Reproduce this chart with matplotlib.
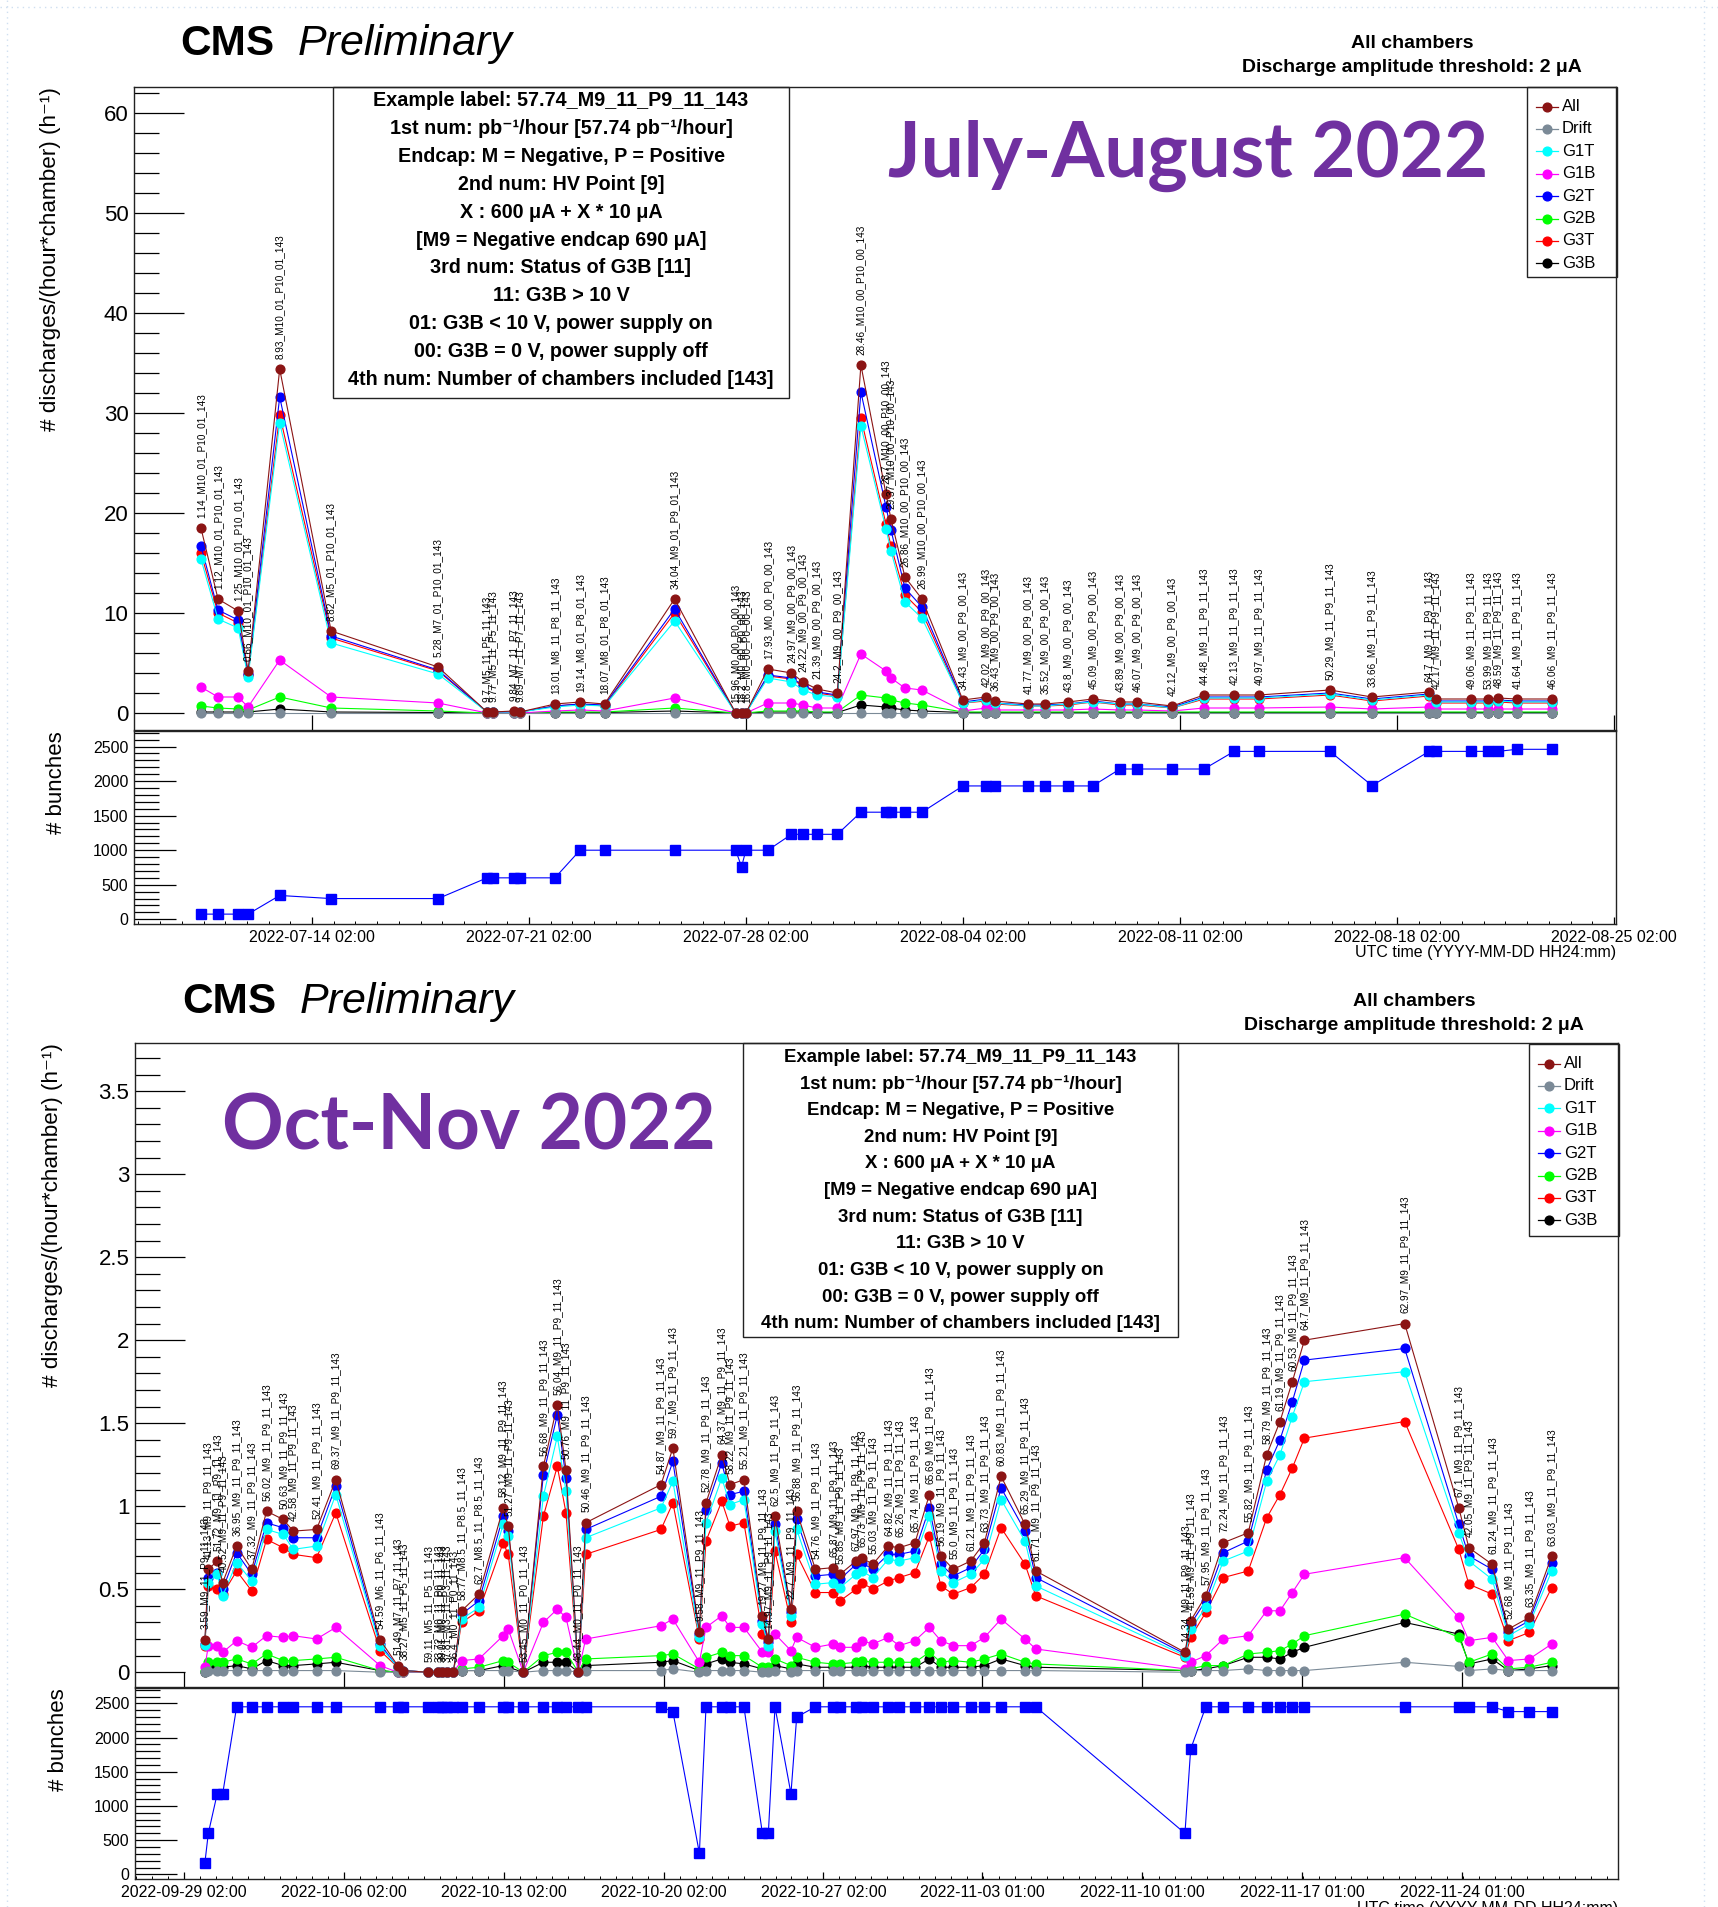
import datetime as dt
import numpy as np
import matplotlib
matplotlib.use("Agg")
import matplotlib.pyplot as plt
import matplotlib.dates as mdates
from matplotlib.lines import Line2D
from matplotlib.patches import Rectangle
from matplotlib.ticker import MultipleLocator, FixedLocator, FuncFormatter

plt.rcParams["font.family"] = ["Liberation Sans", "DejaVu Sans"]

W, H = 1718, 1907

SERIES = ["All", "Drift", "G1T", "G1B", "G2T", "G2B", "G3T", "G3B"]
COLORS = {"All": "#8b1414", "Drift": "#7b8a97", "G1T": "#00ffff", "G1B": "#ff00ff",
          "G2T": "#0000ff", "G2B": "#00ff00", "G3T": "#ff0000", "G3B": "#000000"}
DRAW_ORDER = ["G3B", "G3T", "G2B", "G2T", "G1B", "G1T", "Drift", "All"]

# ---------------- July-August 2022 ----------------
jul_t0 = dt.datetime(2022, 7, 1)
jul_day = [9.50, 10.05, 10.70, 11.02, 12.04, 13.70, 17.15, 18.73, 18.92, 19.60,
           19.79, 20.92, 21.73, 22.52, 24.78, 26.75, 26.94, 27.08, 27.79, 28.55,
           28.92, 29.37, 30.03, 30.79, 31.60, 31.76, 32.21, 32.76, 34.08, 34.83,
           35.12, 36.18, 36.73, 37.47, 38.27, 39.15, 39.70, 40.83, 41.86, 42.83,
           43.63, 45.92, 47.28, 49.12, 49.34, 50.47, 51.02, 51.34, 51.95, 53.08]
jul_label = [
    "1.14_M10_01_P10_01_143", "1.12_M10_01_P10_01_143", "1.25_M10_01_P10_01_143",
    "0.66_M10_01_P10_01_143", "8.93_M10_01_P10_01_143", "8.82_M5_01_P10_01_143",
    "5.28_M7_01_P10_01_143", "9.7_M5_11_P5_11_143", "9.77_M5_11_P5_11_143",
    "9.84_M7_11_P7_11_143", "9.89_M7_11_P7_11_143", "13.01_M8_11_P8_11_143",
    "19.14_M8_01_P8_01_143", "18.07_M8_01_P8_01_143", "34.04_M9_01_P9_01_143",
    "15.96_M0_00_P0_00_143", "18.2_M0_00_P0_00_143", "16.8_M0_00_P0_00_143",
    "17.93_M0_00_P0_00_143", "24.97_M9_00_P9_00_143", "24.22_M9_00_P9_00_143",
    "21.39_M9_00_P9_00_143", "24.2_M9_00_P9_00_143", "28.46_M10_00_P10_00_143",
    "28.7_M10_00_P10_00_143", "29.37_M10_00_P10_00_143", "26.86_M10_00_P10_00_143",
    "26.99_M10_00_P10_00_143", "34.43_M9_00_P9_00_143", "42.02_M9_00_P9_00_143",
    "36.43_M9_00_P9_00_143", "41.77_M9_00_P9_00_143", "35.52_M9_00_P9_00_143",
    "43.8_M9_00_P9_00_143", "45.09_M9_00_P9_00_143", "43.89_M9_00_P9_00_143",
    "46.07_M9_00_P9_00_143", "42.12_M9_00_P9_00_143", "44.48_M9_11_P9_11_143",
    "42.13_M9_11_P9_11_143", "40.97_M9_11_P9_11_143", "50.29_M9_11_P9_11_143",
    "33.66_M9_11_P9_11_143", "64.7_M9_11_P9_11_143", "42.17_M9_11_P9_11_143",
    "49.06_M9_11_P9_11_143", "53.99_M9_11_P9_11_143", "48.59_M9_11_P9_11_143",
    "41.64_M9_11_P9_11_143", "46.06_M9_11_P9_11_143"]
jul_all = [18.5, 11.4, 10.2, 4.2, 34.4, 8.2, 4.6, 0.1, 0.1, 0.2,
           0.1, 0.9, 1.1, 0.9, 11.4, 0.0, 0.0, 0.0, 4.4, 4.0,
           3.1, 2.4, 2.0, 34.8, 21.9, 19.4, 13.6, 11.4, 1.3, 1.6,
           1.2, 0.9, 0.9, 1.1, 1.4, 1.1, 1.1, 0.7, 1.8, 1.8,
           1.8, 2.3, 1.6, 2.1, 1.4, 1.4, 1.4, 1.5, 1.4, 1.4]
jul_g2t = [16.7, 10.3, 9.3, 3.9, 31.6, 7.7, 4.3, 0.1, 0.1, 0.1,
           0.1, 0.7, 0.9, 0.8, 10.4, 0.0, 0.0, 0.0, 3.8, 3.5,
           2.8, 2.1, 1.8, 32.1, 20.6, 18.3, 12.5, 10.6, 1.1, 1.4,
           1.0, 0.8, 0.8, 0.9, 1.2, 0.9, 0.9, 0.6, 1.6, 1.6,
           1.6, 2.0, 1.4, 1.9, 1.2, 1.2, 1.2, 1.3, 1.2, 1.2]
jul_g3t = [16.0, 10.0, 9.0, 3.8, 29.8, 7.5, 4.2, 0.1, 0.1, 0.1,
           0.1, 0.7, 0.9, 0.7, 10.0, 0.0, 0.0, 0.0, 3.7, 3.4,
           2.7, 2.0, 1.7, 29.5, 18.9, 16.7, 11.8, 10.1, 1.0, 1.2,
           0.9, 0.7, 0.7, 0.8, 1.1, 0.8, 0.8, 0.5, 1.4, 1.4,
           1.4, 1.8, 1.2, 1.7, 1.0, 1.0, 1.0, 1.1, 1.0, 1.0]
jul_g1t = [15.4, 9.4, 8.5, 3.6, 29.0, 7.0, 3.9, 0.1, 0.1, 0.1,
           0.1, 0.6, 0.8, 0.7, 9.2, 0.0, 0.0, 0.0, 3.5, 3.1,
           2.3, 1.8, 1.6, 28.7, 18.4, 16.2, 11.1, 9.5, 1.0, 1.3,
           1.0, 0.7, 0.7, 0.9, 1.1, 0.9, 0.9, 0.5, 1.5, 1.5,
           1.5, 1.9, 1.3, 1.8, 1.1, 1.1, 1.1, 1.2, 1.1, 1.1]
jul_g1b = [2.6, 1.6, 1.6, 0.6, 5.3, 1.6, 1.0, 0.0, 0.0, 0.0,
           0.0, 0.2, 0.3, 0.2, 1.5, 0.0, 0.0, 0.0, 1.0, 1.0,
           0.8, 0.5, 0.5, 5.9, 4.2, 3.5, 2.5, 2.3, 0.2, 0.5,
           0.3, 0.3, 0.3, 0.3, 0.4, 0.3, 0.3, 0.2, 0.5, 0.5,
           0.5, 0.6, 0.4, 0.6, 0.4, 0.4, 0.4, 0.4, 0.4, 0.4]
jul_g2b = [0.7, 0.5, 0.4, 0.3, 1.6, 0.5, 0.2, 0.0, 0.0, 0.0,
           0.0, 0.1, 0.1, 0.1, 0.5, 0.0, 0.0, 0.0, 0.2, 0.2,
           0.2, 0.1, 0.1, 1.8, 1.5, 1.3, 1.0, 0.8, 0.1, 0.1,
           0.1, 0.1, 0.1, 0.1, 0.1, 0.1, 0.1, 0.1, 0.1, 0.1,
           0.1, 0.1, 0.1, 0.1, 0.1, 0.1, 0.1, 0.1, 0.1, 0.1]
jul_g3b = [0.1, 0.1, 0.1, 0.1, 0.4, 0.1, 0.05, 0.0, 0.0, 0.0,
           0.0, 0.05, 0.05, 0.05, 0.2, 0.0, 0.0, 0.0, 0.1, 0.1,
           0.1, 0.05, 0.05, 0.8, 0.6, 0.5, 0.3, 0.2, 0.05, 0.05,
           0.05, 0.05, 0.05, 0.05, 0.05, 0.05, 0.05, 0.05, 0.05, 0.05,
           0.05, 0.05, 0.05, 0.05, 0.05, 0.05, 0.05, 0.05, 0.05, 0.05]
jul_drift = [0.0, 0.0, 0.0, 0.0, 0.0, 0.0, 0.0, 0.0, 0.0, 0.0,
             0.0, 0.0, 0.0, 0.0, 0.0, 0.0, 0.0, 0.0, 0.0, 0.0,
             0.0, 0.0, 0.0, 0.0, 0.0, 0.0, 0.0, 0.0, 0.0, 0.0,
             0.0, 0.0, 0.0, 0.0, 0.0, 0.0, 0.0, 0.0, 0.0, 0.0,
             0.0, 0.0, 0.0, 0.0, 0.0, 0.0, 0.0, 0.0, 0.0, 0.0]
jul_bunches = [75, 75, 75, 75, 345, 300, 300, 600, 600, 600,
               600, 600, 1000, 1000, 1000, 1000, 760, 1000, 1000, 1230,
               1230, 1230, 1230, 1550, 1550, 1550, 1550, 1550, 1930, 1930,
               1930, 1930, 1930, 1930, 1930, 2175, 2175, 2175, 2175, 2430,
               2430, 2430, 1935, 2430, 2430, 2430, 2430, 2430, 2460, 2460]
jul_ticks = [dt.datetime(2022, 7, 14, 2) + dt.timedelta(days=7 * k) for k in range(7)]

# ---------------- Oct-Nov 2022 ----------------
oct_t0 = dt.datetime(2022, 9, 29)
oct_day = [1.00, 1.15, 1.54, 1.78, 2.39, 3.05, 3.70, 4.43, 4.87, 5.89,
           6.73, 8.67, 9.44, 9.69, 10.78, 11.22, 11.37, 11.59, 11.88, 12.24,
           13.00, 14.06, 14.28, 14.94, 15.82, 16.43, 16.81, 17.35, 17.67, 20.97,
           21.49, 22.65, 22.94, 23.63, 23.99, 24.60, 25.41, 25.67, 25.96, 26.66,
           26.91, 27.73, 28.51, 28.81, 29.51, 29.76, 30.24, 30.92, 31.40, 32.09,
           32.72, 33.22, 33.77, 34.53, 35.13, 35.86, 36.91, 37.38, 43.91, 44.16,
           44.82, 45.59, 46.68, 47.49, 48.07, 48.61, 49.14, 53.53, 55.90, 56.34,
           57.36, 58.07, 58.99, 59.97]
oct_label = [
    "3.59_M9_11_P9_11_143", "41.13_M9_11_P9_11_143", "51.72_M9_11_P9_11_143",
    "40.52_M9_11_P9_11_143", "36.95_M9_11_P9_11_143", "37.32_M9_11_P9_11_143",
    "56.02_M9_11_P9_11_143", "50.63_M9_11_P9_11_143", "42.58_M9_11_P9_11_143",
    "52.41_M9_11_P9_11_143", "69.37_M9_11_P9_11_143", "54.59_M6_11_P6_11_143",
    "51.49_M7_11_P7_11_143", "38.27_M5_11_P5_11_143", "59.11_M5_11_P5_11_143",
    "33.72_M0_11_P0_11_143", "39.01_M0_11_P0_11_143", "37.81_M3_11_P3_11_143",
    "36.4_M0_11_P0_11_143", "58.77_M8.5_11_P8.5_11_143", "62.7_M8.5_11_P8.5_11_143",
    "58.12_M9_11_P9_11_143", "51.27_M9_11_P9_11_143", "53.45_M0_11_P0_11_143",
    "56.68_M9_11_P9_11_143", "56.04_M9_11_P9_11_143", "50.76_M9_11_P9_11_143",
    "48.44_M0_11_P0_11_143", "50.46_M9_11_P9_11_143", "54.87_M9_11_P9_11_143",
    "59.7_M9_11_P9_11_143", "9.58_M9_11_P9_11_143", "52.78_M9_11_P9_11_143",
    "64.37_M9_11_P9_11_143", "58.22_M9_11_P9_11_143", "55.21_M9_11_P9_11_143",
    "19.27_M9_11_P9_11_143", "14.97_M9_11_P9_11_143", "62.5_M9_11_P9_11_143",
    "22.7_M9_11_P9_11_143", "56.88_M9_11_P9_11_143", "54.76_M9_11_P9_11_143",
    "65.87_M9_11_P9_11_143", "55.85_M9_11_P9_11_143", "67.97_M9_11_P9_11_143",
    "65.73_M9_11_P9_11_143", "55.03_M9_11_P9_11_143", "64.82_M9_11_P9_11_143",
    "65.26_M9_11_P9_11_143", "65.74_M9_11_P9_11_143", "65.69_M9_11_P9_11_143",
    "56.19_M9_11_P9_11_143", "55.0_M9_11_P9_11_143", "61.21_M9_11_P9_11_143",
    "63.73_M9_11_P9_11_143", "60.83_M9_11_P9_11_143", "65.29_M9_11_P9_11_143",
    "61.71_M9_11_P9_11_143", "14.34_M9_11_P9_11_143", "41.59_M9_11_P9_11_143",
    "57.95_M9_11_P9_11_143", "72.24_M9_11_P9_11_143", "55.82_M9_11_P9_11_143",
    "58.79_M9_11_P9_11_143", "61.19_M9_11_P9_11_143", "60.53_M9_11_P9_11_143",
    "64.7_M9_11_P9_11_143", "62.97_M9_11_P9_11_143", "67.1_M9_11_P9_11_143",
    "42.05_M9_11_P9_11_143", "61.24_M9_11_P9_11_143", "52.68_M9_11_P9_11_143",
    "63.35_M9_11_P9_11_143", "63.03_M9_11_P9_11_143"]
oct_all = [0.195, 0.62, 0.67, 0.54, 0.76, 0.62, 0.97, 0.92, 0.85, 0.86,
           1.16, 0.195, 0.04, 0.01, 0.0, 0.0, 0.0, 0.0, 0.0, 0.37,
           0.47, 0.99, 0.88, 0.0, 1.24, 1.61, 1.22, 0.0, 0.90, 1.13,
           1.35, 0.245, 1.02, 1.31, 1.13, 1.16, 0.34, 0.20, 0.94, 0.38,
           0.97, 0.62, 0.63, 0.59, 0.67, 0.69, 0.65, 0.76, 0.75, 0.78,
           1.07, 0.70, 0.62, 0.67, 0.78, 1.18, 0.89, 0.61, 0.12, 0.31,
           0.46, 0.78, 0.84, 1.31, 1.51, 1.75, 2.00, 2.10, 0.99, 0.75,
           0.65, 0.26, 0.33, 0.70]
oct_g2t = [0.17, 0.57, 0.60, 0.50, 0.72, 0.59, 0.90, 0.87, 0.81, 0.81,
           1.12, 0.17, 0.03, 0.01, 0.0, 0.0, 0.0, 0.0, 0.0, 0.35,
           0.43, 0.94, 0.85, 0.0, 1.19, 1.55, 1.17, 0.0, 0.86, 1.06,
           1.27, 0.23, 0.98, 1.26, 1.07, 1.09, 0.31, 0.18, 0.89, 0.36,
           0.92, 0.58, 0.59, 0.56, 0.65, 0.66, 0.62, 0.71, 0.71, 0.73,
           0.99, 0.65, 0.58, 0.63, 0.74, 1.11, 0.85, 0.57, 0.11, 0.29,
           0.43, 0.72, 0.79, 1.22, 1.40, 1.63, 1.88, 1.95, 0.89, 0.70,
           0.62, 0.24, 0.31, 0.66]
oct_g1t = [0.165, 0.54, 0.59, 0.46, 0.66, 0.55, 0.86, 0.83, 0.74, 0.76,
           1.07, 0.155, 0.03, 0.01, 0.0, 0.0, 0.0, 0.0, 0.0, 0.32,
           0.39, 0.89, 0.82, 0.0, 1.06, 1.42, 1.09, 0.0, 0.81, 0.99,
           1.15, 0.21, 0.90, 1.17, 1.01, 1.04, 0.29, 0.16, 0.85, 0.34,
           0.86, 0.53, 0.54, 0.51, 0.59, 0.61, 0.57, 0.68, 0.67, 0.69,
           0.94, 0.61, 0.54, 0.59, 0.68, 1.04, 0.79, 0.52, 0.10, 0.26,
           0.39, 0.67, 0.73, 1.15, 1.31, 1.54, 1.75, 1.81, 0.84, 0.67,
           0.56, 0.22, 0.29, 0.61]
oct_g3t = [0.16, 0.52, 0.50, 0.47, 0.61, 0.49, 0.80, 0.75, 0.71, 0.69,
           0.96, 0.13, 0.03, 0.01, 0.0, 0.0, 0.0, 0.0, 0.0, 0.30,
           0.37, 0.78, 0.71, 0.0, 0.94, 1.24, 0.96, 0.0, 0.71, 0.86,
           1.02, 0.20, 0.79, 1.03, 0.88, 0.90, 0.23, 0.14, 0.73, 0.30,
           0.71, 0.48, 0.48, 0.43, 0.50, 0.54, 0.50, 0.55, 0.57, 0.60,
           0.82, 0.52, 0.47, 0.51, 0.59, 0.87, 0.65, 0.46, 0.09, 0.21,
           0.36, 0.57, 0.61, 0.93, 1.07, 1.23, 1.41, 1.51, 0.74, 0.53,
           0.47, 0.19, 0.24, 0.51]
oct_g1b = [0.03, 0.16, 0.16, 0.12, 0.19, 0.15, 0.22, 0.21, 0.22, 0.20,
           0.27, 0.04, 0.0, 0.0, 0.0, 0.0, 0.0, 0.0, 0.0, 0.07,
           0.08, 0.22, 0.26, 0.0, 0.30, 0.38, 0.33, 0.0, 0.20, 0.28,
           0.32, 0.06, 0.27, 0.34, 0.27, 0.27, 0.12, 0.12, 0.23, 0.13,
           0.21, 0.15, 0.17, 0.15, 0.15, 0.19, 0.17, 0.21, 0.16, 0.19,
           0.27, 0.19, 0.16, 0.16, 0.21, 0.32, 0.20, 0.14, 0.02, 0.06,
           0.10, 0.20, 0.22, 0.37, 0.37, 0.48, 0.59, 0.69, 0.33, 0.19,
           0.21, 0.07, 0.08, 0.17]
oct_g2b = [0.01, 0.06, 0.06, 0.06, 0.08, 0.05, 0.11, 0.07, 0.07, 0.08,
           0.09, 0.01, 0.0, 0.0, 0.0, 0.0, 0.0, 0.0, 0.0, 0.02,
           0.03, 0.07, 0.06, 0.0, 0.10, 0.12, 0.12, 0.0, 0.08, 0.10,
           0.11, 0.02, 0.09, 0.12, 0.10, 0.10, 0.03, 0.03, 0.08, 0.04,
           0.09, 0.06, 0.05, 0.05, 0.06, 0.07, 0.06, 0.06, 0.06, 0.06,
           0.12, 0.06, 0.07, 0.06, 0.08, 0.11, 0.06, 0.05, 0.01, 0.02,
           0.04, 0.04, 0.11, 0.12, 0.13, 0.17, 0.22, 0.35, 0.21, 0.06,
           0.11, 0.02, 0.03, 0.06]
oct_g3b = [0.0, 0.03, 0.03, 0.03, 0.04, 0.02, 0.07, 0.04, 0.04, 0.05,
           0.06, 0.01, 0.0, 0.0, 0.0, 0.0, 0.0, 0.0, 0.0, 0.01,
           0.01, 0.04, 0.03, 0.0, 0.06, 0.06, 0.06, 0.0, 0.04, 0.06,
           0.07, 0.01, 0.05, 0.08, 0.06, 0.05, 0.02, 0.02, 0.04, 0.02,
           0.05, 0.03, 0.03, 0.03, 0.03, 0.04, 0.03, 0.03, 0.03, 0.03,
           0.08, 0.03, 0.03, 0.03, 0.04, 0.08, 0.04, 0.03, 0.01, 0.01,
           0.02, 0.04, 0.09, 0.09, 0.08, 0.12, 0.15, 0.30, 0.23, 0.05,
           0.08, 0.01, 0.02, 0.04]
oct_drift = [0.0, 0.01, 0.01, 0.01, 0.01, 0.01, 0.01, 0.01, 0.01, 0.01,
             0.01, 0.0, 0.0, 0.0, 0.0, 0.0, 0.0, 0.0, 0.0, 0.01,
             0.01, 0.01, 0.01, 0.0, 0.01, 0.01, 0.01, 0.0, 0.01, 0.01,
             0.02, 0.0, 0.01, 0.01, 0.01, 0.01, 0.0, 0.0, 0.01, 0.0,
             0.01, 0.01, 0.01, 0.01, 0.01, 0.01, 0.01, 0.01, 0.01, 0.01,
             0.01, 0.01, 0.01, 0.01, 0.01, 0.01, 0.01, 0.01, 0.0, 0.01,
             0.01, 0.01, 0.02, 0.01, 0.01, 0.01, 0.01, 0.06, 0.035, 0.01,
             0.02, 0.01, 0.01, 0.01]
oct_bunches = [170, 600, 1180, 1180, 2450, 2450, 2450, 2450, 2450, 2450,
               2450, 2450, 2450, 2450, 2450, 2450, 2450, 2450, 2450, 2450,
               2450, 2450, 2450, 2450, 2450, 2450, 2450, 2450, 2450, 2450,
               2380, 310, 2450, 2450, 2450, 2450, 600, 600, 2450, 1180,
               2300, 2450, 2450, 2450, 2450, 2450, 2450, 2450, 2450, 2450,
               2450, 2450, 2450, 2450, 2450, 2450, 2450, 2450, 600, 1830,
               2450, 2450, 2450, 2450, 2450, 2450, 2450, 2450, 2450, 2450,
               2450, 2380, 2380, 2380]
oct_ticks = [dt.datetime(2022, 9, 29, 2), dt.datetime(2022, 10, 6, 2),
             dt.datetime(2022, 10, 13, 2), dt.datetime(2022, 10, 20, 2),
             dt.datetime(2022, 10, 27, 2), dt.datetime(2022, 11, 3, 1),
             dt.datetime(2022, 11, 10, 1), dt.datetime(2022, 11, 17, 1),
             dt.datetime(2022, 11, 24, 1)]

INFO_LINES = ["Example label: 57.74_M9_11_P9_11_143",
              "1st num: pb\u207b\u00b9/hour [57.74 pb\u207b\u00b9/hour]",
              "Endcap: M = Negative, P = Positive",
              "2nd num: HV Point [9]",
              "X : 600 \u03bcA + X * 10 \u03bcA",
              "[M9 = Negative endcap 690 \u03bcA]",
              "3rd num: Status of G3B [11]",
              "11: G3B > 10 V",
              "01: G3B < 10 V, power supply on",
              "00: G3B = 0 V, power supply off",
              "4th num: Number of chambers included [143]"]


def axes_px(fig, left, top, right, bottom):
    return fig.add_axes([left / W, 1 - bottom / H, (right - left) / W, (bottom - top) / H])


def fx(x):
    return x / W


def fy(y):
    return 1 - y / H


def frame(ax):
    for s in ax.spines.values():
        s.set_linewidth(1.0)
        s.set_color("#222222")


def draw_period(fig, t0, day, rates, labels, bunches, ticks, lay):
    x = mdates.date2num(t0) + np.asarray(day)
    x0 = mdates.date2num(t0) + lay["xlim"][0]
    x1 = mdates.date2num(t0) + lay["xlim"][1]
    tick_num = mdates.date2num(ticks)
    fmt = FuncFormatter(lambda v, p: f"{v:g}")

    # discharge rate per chamber
    ax = axes_px(fig, *lay["main"])
    for name in DRAW_ORDER:
        ax.plot(x, rates[name], color=COLORS[name], lw=0.8, marker="o", ms=6.3,
                mec=COLORS[name], zorder=3)
    for xi, yi, lbl in zip(x, rates["All"], labels):
        ax.annotate(lbl, (xi, yi), xytext=(0, 7.5), textcoords="offset points",
                    rotation=90, ha="center", va="bottom", fontsize=7.2, zorder=6)
    ax.set_xlim(x0, x1)
    ax.set_ylim(*lay["ylim"])
    ax.yaxis.set_major_locator(MultipleLocator(lay["ystep"][0]))
    ax.yaxis.set_minor_locator(MultipleLocator(lay["ystep"][1]))
    ax.yaxis.set_major_formatter(fmt)
    ax.xaxis.set_major_locator(FixedLocator(tick_num))
    ax.tick_params(axis="y", which="major", direction="in", length=36, width=0.9,
                   labelsize=16, pad=4, right=False)
    ax.tick_params(axis="y", which="minor", direction="in", length=18, width=0.9, right=False)
    ax.tick_params(axis="x", which="major", direction="in", length=10.5, width=0.9,
                   labelbottom=False, top=False)
    frame(ax)

    # filled bunches
    bx = axes_px(fig, *lay["bunch"])
    bx.plot(x, bunches, color="#0000ff", lw=0.8, marker="s", ms=6.8, zorder=3)
    bx.set_xlim(x0, x1)
    bx.set_ylim(-68, 2725)
    bx.yaxis.set_major_locator(MultipleLocator(500))
    bx.yaxis.set_minor_locator(MultipleLocator(100))
    bx.yaxis.set_major_formatter(fmt)
    bx.xaxis.set_major_locator(FixedLocator(tick_num))
    bx.xaxis.set_major_formatter(mdates.DateFormatter("%Y-%m-%d %H:%M"))
    minors = [tick_num[0] + 0.7 * k for k in range(-10, 120)]
    bx.xaxis.set_minor_locator(FixedLocator([m for m in minors if x0 < m < x1]))
    bx.tick_params(axis="y", which="major", direction="in", length=30, width=0.9,
                   labelsize=11.5, pad=4, right=False)
    bx.tick_params(axis="y", which="minor", direction="in", length=18, width=0.9, right=False)
    bx.tick_params(axis="x", which="major", direction="in", length=5, width=0.9,
                   labelsize=11.5, pad=4, top=False)
    bx.tick_params(axis="x", which="minor", direction="in", length=2.5, width=0.7, top=False)
    frame(bx)

    left, top, right, bottom = lay["main"]
    fig.text(fx(lay["ylab_x"]), fy(top), "# discharges/(hour*chamber) (h\u207b\u00b9)",
             rotation=90, ha="center", va="top", fontsize=16.2)
    fig.text(fx(lay["ylab_x"] + 6), fy(lay["bunch"][1]), "# bunches",
             rotation=90, ha="center", va="top", fontsize=16)
    fig.text(fx(right), fy(lay["bunch"][3] + 29), "UTC time (YYYY-MM-DD HH24:mm)",
             ha="right", va="center", fontsize=11.5)

    # header
    cx, cy = lay["cms"]
    fig.text(fx(cx), fy(cy), "CMS", fontsize=30.5, fontweight="bold", ha="left", va="center")
    fig.text(fx(cx + 118), fy(cy), "Preliminary", fontsize=31, style="italic",
             ha="left", va="center")
    hx, hy = lay["head"]
    fig.text(fx(hx), fy(hy), "All chambers", fontsize=14, fontweight="bold",
             ha="center", va="center")
    fig.text(fx(hx), fy(hy + 24), "Discharge amplitude threshold: 2 \u03bcA", fontsize=14,
             fontweight="bold", ha="center", va="center")

    # label explanation box
    bl, bt, br, bb = lay["box"]
    fig.add_artist(Rectangle((fx(bl), fy(bb)), (br - bl) / W, (bb - bt) / H,
                             transform=fig.transFigure, fill=False, ec="#222222", lw=1.0))
    for i, line in enumerate(INFO_LINES):
        fig.text(fx((bl + br) / 2), fy(bt + 14 + lay["box_step"] * i), line,
                 fontsize=lay["box_font"], fontweight="bold", ha="center", va="center")

    # legend
    ll, lt, lr, lb = lay["legend"]
    fig.add_artist(Rectangle((fx(ll), fy(lb)), (lr - ll) / W, (lb - lt) / H,
                             transform=fig.transFigure, fill=False, ec="#222222", lw=1.0))
    for i, name in enumerate(SERIES):
        yy = fy(lt + 19.5 + 22.4 * i)
        fig.add_artist(Line2D([fx(ll + 9), fx(ll + 31)], [yy, yy], color=COLORS[name],
                              lw=0.9, transform=fig.transFigure))
        fig.add_artist(Line2D([fx(ll + 20)], [yy], marker="o", ms=6.3, color=COLORS[name],
                              transform=fig.transFigure))
        fig.text(fx(ll + 35), yy, name, fontsize=12, ha="left", va="center")

    px, py = lay["period_pos"]
    fig.text(fx(px), fy(py), lay["period"], fontsize=55, fontweight="bold",
             family="Lato", color="#7030a0", ha="left", va="baseline")


fig = plt.figure(figsize=(W / 100, H / 100), dpi=100)
fig.patch.set_facecolor("white")

# faint dotted slide border
for xs, ys in [([fx(7), fx(7)], [0, 1]), ([fx(1704), fx(1704)], [0, 1]), ([0, 1], [fy(7), fy(7)])]:
    fig.add_artist(Line2D(xs, ys, color="#cfdff0", lw=1.0, ls=(0, (1, 3)),
                          transform=fig.transFigure))

jul_rates = {"All": jul_all, "Drift": jul_drift, "G1T": jul_g1t, "G1B": jul_g1b,
             "G2T": jul_g2t, "G2B": jul_g2b, "G3T": jul_g3t, "G3B": jul_g3b}
oct_rates = {"All": oct_all, "Drift": oct_drift, "G1T": oct_g1t, "G1B": oct_g1b,
             "G2T": oct_g2t, "G2B": oct_g2b, "G3T": oct_g3t, "G3B": oct_g3b}

draw_period(fig, jul_t0, jul_day, jul_rates, jul_label, jul_bunches, jul_ticks, dict(
    main=(134, 87, 1616, 730), bunch=(134, 731, 1616, 924), xlim=(7.34, 55.15),
    ylim=(-1.7, 62.6), ystep=(10, 2), ylab_x=51, cms=(180, 44), head=(1412, 43),
    box=(333, 87, 789, 398), box_step=27.8, box_font=14.2, legend=(1527, 87, 1617, 277),
    period="July-August 2022", period_pos=(888, 177)))

draw_period(fig, oct_t0, oct_day, oct_rates, oct_label, oct_bunches, oct_ticks, dict(
    main=(135, 1043, 1618, 1687), bunch=(135, 1688, 1618, 1879), xlim=(-2.06, 62.87),
    ylim=(-0.089, 3.79), ystep=(0.5, 0.1), ylab_x=53, cms=(182, 1002), head=(1414, 1001),
    box=(743, 1043, 1178, 1337), box_step=26.7, box_font=13.4, legend=(1529, 1044, 1619, 1236),
    period="Oct-Nov 2022", period_pos=(222, 1149)))

fig.savefig("out.png", dpi=100)
